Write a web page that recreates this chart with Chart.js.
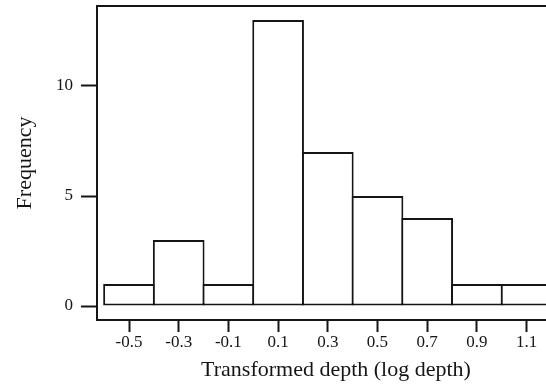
<!DOCTYPE html>
<html>
<head>
<meta charset="utf-8">
<script src="https://cdn.jsdelivr.net/npm/chart.js@4"></script>
<style>
  html, body { margin: 0; padding: 0; background: #ffffff; overflow: hidden; }
  .chart-container { position: relative; width: 575px; height: 386px; }
</style>
</head>
<body>
<div class="chart-container"><canvas id="histChart"></canvas></div>
<script>
const binCenters = [-0.5, -0.3, -0.1, 0.1, 0.3, 0.5, 0.7, 0.9, 1.1];
const frequencies = [1, 3, 1, 13, 7, 5, 4, 1, 1];
const xTickLabels = ['-0.5', '-0.3', '-0.1', '0.1', '0.3', '0.5', '0.7', '0.9', '1.1'];
const yTickValues = [0, 5, 10];
const yTickLabels = ['0', '5', '10'];

const ink = '#151515';
const serif = "'Liberation Serif', 'Times New Roman', serif";

// box around the plot area
const framePlugin = {
  id: 'frame',
  afterDatasetsDraw(chart) {
    const { ctx, chartArea } = chart;
    ctx.save();
    ctx.strokeStyle = ink;
    ctx.lineWidth = 2;
    ctx.strokeRect(chartArea.left, chartArea.top, chartArea.right - chartArea.left, chartArea.bottom - chartArea.top);
    ctx.restore();
  }
};

const ctx = document.getElementById('histChart').getContext('2d');

new Chart(ctx, {
  type: 'bar',
  data: {
    datasets: [{
      label: 'Frequency',
      data: binCenters.map((x, i) => ({ x: x, y: frequencies[i] })),
      backgroundColor: '#ffffff',
      borderColor: ink,
      borderWidth: 2,
      borderSkipped: false,
      // slight overlap so neighbouring edges share one line
      barPercentage: 1.04,
      categoryPercentage: 1
    }]
  },
  options: {
    responsive: true,
    maintainAspectRatio: false,
    animation: false,
    layout: { padding: { top: 6, right: 0, left: 0, bottom: 0 } },
    plugins: {
      legend: { display: false },
      tooltip: { enabled: false }
    },
    scales: {
      x: {
        type: 'linear',
        offset: false,
        min: -0.6288,
        max: 1.2948,
        afterBuildTicks: scale => { scale.ticks = binCenters.map(v => ({ value: v })); },
        afterFit: scale => {
          scale.height = 66;
          scale.paddingLeft = 0;
          scale.paddingRight = 0;
        },
        border: { display: false },
        grid: { offset: false, drawOnChartArea: false, drawTicks: true, tickLength: 12, tickColor: ink, tickWidth: 2 },
        ticks: {
          color: ink,
          padding: 0,
          maxRotation: 0,
          autoSkip: false,
          font: { family: serif, size: 17 },
          callback: (value, index) => xTickLabels[index]
        },
        title: {
          display: true,
          text: 'Transformed depth (log depth)',
          color: ink,
          padding: { top: 0, bottom: 3 },
          font: { family: serif, size: 22 }
        }
      },
      y: {
        type: 'linear',
        min: -0.636,
        max: 13.636,
        afterBuildTicks: scale => { scale.ticks = yTickValues.map(v => ({ value: v })); },
        afterFit: scale => {
          scale.width = 97;
          scale.paddingTop = 0;
          scale.paddingBottom = 0;
        },
        border: { display: false },
        grid: { drawOnChartArea: false, drawTicks: true, tickLength: 16, tickColor: ink, tickWidth: 2 },
        ticks: {
          color: ink,
          padding: 8,
          autoSkip: false,
          font: { family: serif, size: 17 },
          callback: (value, index) => yTickLabels[index]
        },
        title: {
          display: true,
          text: 'Frequency',
          color: ink,
          padding: { top: 12, bottom: 0 },
          font: { family: serif, size: 22 }
        }
      }
    }
  },
  plugins: [framePlugin]
});
</script>
</body>
</html>
